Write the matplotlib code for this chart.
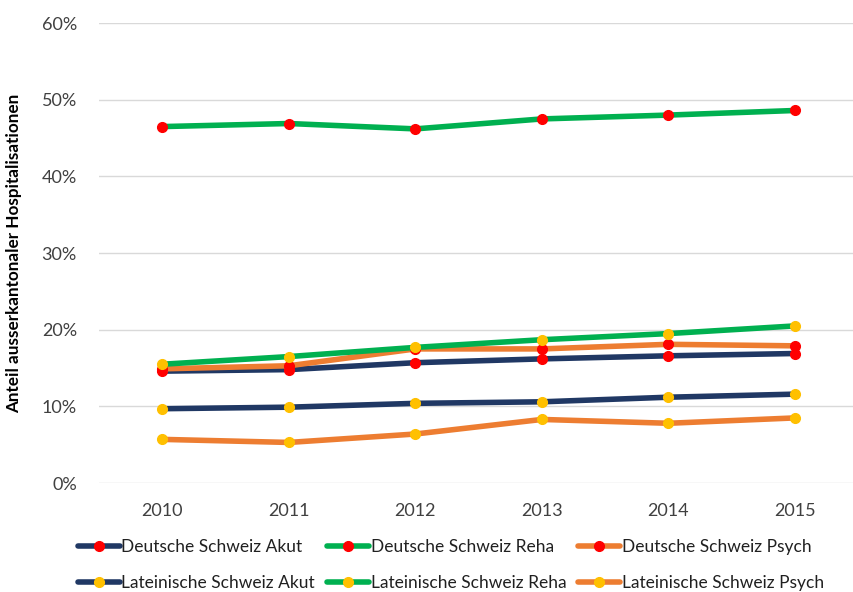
import matplotlib.pyplot as plt
from matplotlib.ticker import PercentFormatter

# Daten (Anteil in %)
jahre = ['2010', '2011', '2012', '2013', '2014', '2015']

ds_akut = [14.6, 14.8, 15.7, 16.2, 16.6, 16.9]
ds_reha = [46.5, 46.9, 46.2, 47.5, 48.0, 48.6]
ds_psych = [14.9, 15.3, 17.5, 17.5, 18.1, 17.9]
ls_akut = [9.7, 9.9, 10.4, 10.6, 11.2, 11.6]
ls_reha = [15.5, 16.5, 17.7, 18.7, 19.5, 20.5]
ls_psych = [5.7, 5.3, 6.4, 8.3, 7.8, 8.5]

serien = [
    ('Deutsche Schweiz Akut', ds_akut, '#203864', '#FF0000'),
    ('Deutsche Schweiz Reha', ds_reha, '#00B050', '#FF0000'),
    ('Deutsche Schweiz Psych', ds_psych, '#ED7D31', '#FF0000'),
    ('Lateinische Schweiz Akut', ls_akut, '#203864', '#FFC000'),
    ('Lateinische Schweiz Reha', ls_reha, '#00B050', '#FFC000'),
    ('Lateinische Schweiz Psych', ls_psych, '#ED7D31', '#FFC000'),
]

#Schrift
plt.rcParams['font.family'] = ['Lato', 'DejaVu Sans']

fig = plt.figure(figsize=(8.54, 5.92), dpi=100)
ax = fig.add_axes([0.116, 0.184, 0.889, 0.777])

x = range(len(jahre))
linien = []
for name, werte, farbe, mfarbe in serien:
    l, = ax.plot(x, werte, color=farbe, linewidth=4, marker='o', markersize=7,
                 markerfacecolor=mfarbe, markeredgecolor=mfarbe, label=name,
                 solid_capstyle='round')
    linien.append(l)

ax.set_xlim(-0.5, len(jahre) - 0.5)
ax.set_ylim(0, 60)
ax.set_xticks(list(x))
ax.set_xticklabels(jahre)
ax.set_yticks(range(0, 61, 10))
ax.yaxis.set_major_formatter(PercentFormatter(decimals=0))
ax.grid(axis='y', color='#D9D9D9', linewidth=1)
ax.set_axisbelow(True)
for s in ax.spines.values():
    s.set_visible(False)
ax.tick_params(length=0, labelsize=13, colors='#404040', pad=14)
ax.tick_params(axis='y', pad=16)

ax.set_ylabel('Anteil ausserkantonaler Hospitalisationen', fontsize=12.3,
              fontweight='bold', color='black', labelpad=14)

#Legende (zeilenweise Reihenfolge)
reihenfolge = [0, 3, 1, 4, 2, 5]
fig.legend([linien[i] for i in reihenfolge],
           [serien[i][0] for i in reihenfolge],
           loc='lower left', bbox_to_anchor=(0.073, -0.024), ncol=3,
           frameon=False, fontsize=12.5, handlelength=2.4, handletextpad=0.1,
           columnspacing=0.7, labelspacing=1.1, labelcolor='#202020')

fig.savefig('out.png', dpi=100)
